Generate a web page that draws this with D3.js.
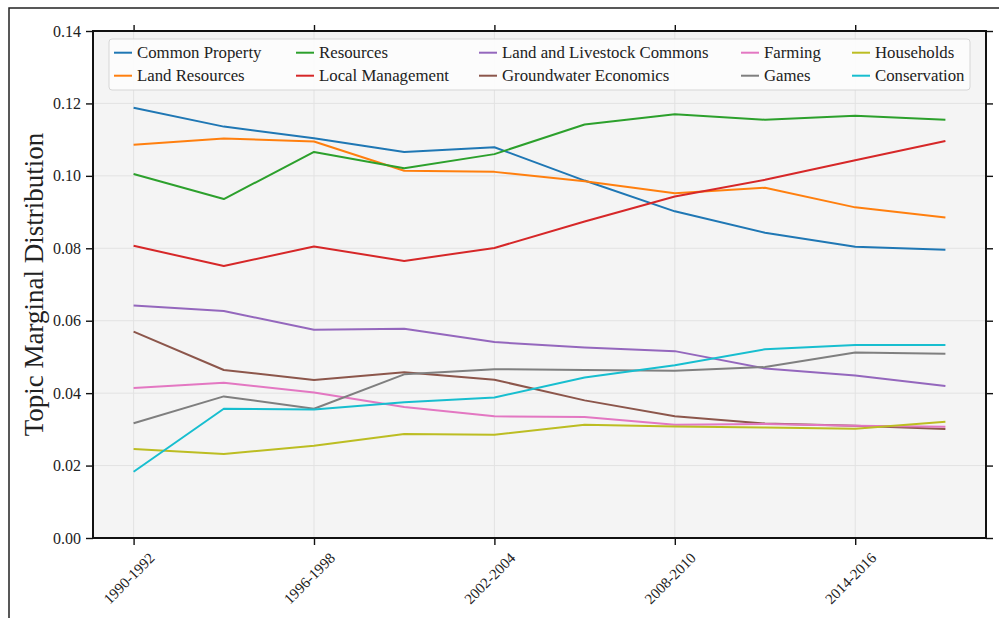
<!DOCTYPE html>
<html>
<head>
<meta charset="utf-8">
<script src="https://cdn.jsdelivr.net/npm/d3@7"></script>
<style>
  html, body { margin: 0; padding: 0; background: #fff; }
  svg { display: block; }
  text { font-family: "Liberation Serif", "Times New Roman", serif; fill: #222; }
</style>
</head>
<body>
<svg id="chart" width="999" height="618"></svg>
<script>
const categories = ["1990-1992","1993-1995","1996-1998","1999-2001","2002-2004","2005-2007","2008-2010","2011-2013","2014-2016","2017-2019"];
const tickLabels = ["1990-1992","1996-1998","2002-2004","2008-2010","2014-2016"];
const yTicks = [0, 0.02, 0.04, 0.06, 0.08, 0.10, 0.12, 0.14];

const seriesNames = ["Common Property","Land Resources","Resources","Local Management","Land and Livestock Commons","Groundwater Economics","Farming","Games","Households","Conservation"];
const seriesColors = ["#1f77b4","#ff7f0e","#2ca02c","#d62728","#9467bd","#8c564b","#e377c2","#7f7f7f","#bcbd22","#17becf"];

const commonProperty   = [0.1188,0.1136,0.1104,0.1066,0.1079,0.0987,0.0902,0.0843,0.0804,0.0796];
const landResources    = [0.1086,0.1103,0.1095,0.1014,0.1011,0.0985,0.0952,0.0967,0.0913,0.0885];
const resources        = [0.1005,0.0936,0.1066,0.1021,0.1060,0.1142,0.1170,0.1155,0.1166,0.1155];
const localManagement  = [0.0807,0.0751,0.0805,0.0765,0.0801,0.0874,0.0943,0.0989,0.1043,0.1096];
const landLivestock    = [0.0642,0.0627,0.0575,0.0578,0.0541,0.0526,0.0516,0.0468,0.0449,0.0420];
const groundwater      = [0.0570,0.0464,0.0436,0.0458,0.0437,0.0380,0.0336,0.0316,0.0310,0.0301];
const farming          = [0.0414,0.0429,0.0402,0.0362,0.0336,0.0334,0.0313,0.0315,0.0310,0.0307];
const games            = [0.0317,0.0391,0.0357,0.0452,0.0466,0.0464,0.0462,0.0472,0.0512,0.0509];
const households       = [0.0246,0.0232,0.0255,0.0287,0.0285,0.0313,0.0308,0.0305,0.0302,0.0321];
const conservation     = [0.0183,0.0357,0.0355,0.0375,0.0388,0.0443,0.0477,0.0521,0.0533,0.0533];

const seriesValues = [commonProperty, landResources, resources, localManagement, landLivestock, groundwater, farming, games, households, conservation];

const svg = d3.select("#chart");
const pL = 93, pR = 986, pT = 31, pB = 538;

// outer figure frame
svg.append("rect").attr("x", 9).attr("y", 8).attr("width", 1100).attr("height", 700)
  .attr("fill", "none").attr("stroke", "#222").attr("stroke-width", 1.5);

const x = d3.scalePoint().domain(categories).range([pL, pR]).padding(0.45);
const y = d3.scaleLinear().domain([0, 0.14]).range([pB, pT]);

// plot background
svg.append("rect").attr("x", pL).attr("y", pT).attr("width", pR - pL).attr("height", pB - pT)
  .attr("fill", "#f4f4f4");

// grid
const grid = svg.append("g");
grid.selectAll("line.h").data(yTicks).join("line").attr("class", "h")
  .attr("x1", pL).attr("x2", pR)
  .attr("y1", d => y(d)).attr("y2", d => y(d))
  .attr("stroke", "#e2e2e2").attr("stroke-width", 1);
grid.selectAll("line.v").data(tickLabels).join("line").attr("class", "v")
  .attr("x1", d => x(d)).attr("x2", d => x(d))
  .attr("y1", pT).attr("y2", pB)
  .attr("stroke", "#e2e2e2").attr("stroke-width", 1);

// lines
const line = d3.line().x((d, i) => x(categories[i])).y(d => y(d));
svg.append("g").selectAll("path").data(seriesValues).join("path")
  .attr("d", d => line(d))
  .attr("fill", "none")
  .attr("stroke", (d, i) => seriesColors[i])
  .attr("stroke-width", 2)
  .attr("stroke-linejoin", "round");

// axes
const fmt = d3.format(".2f");
const yAxisL = svg.append("g").attr("transform", `translate(${pL},0)`)
  .call(d3.axisLeft(y).tickValues(yTicks).tickFormat(fmt).tickSize(7).tickPadding(5));
const yAxisR = svg.append("g").attr("transform", `translate(${pR},0)`)
  .call(d3.axisRight(y).tickValues(yTicks).tickFormat("").tickSize(7));
const xAxisB = svg.append("g").attr("transform", `translate(0,${pB})`)
  .call(d3.axisBottom(x).tickValues(tickLabels).tickSize(7).tickFormat(""));
const xAxisT = svg.append("g").attr("transform", `translate(0,${pT})`)
  .call(d3.axisTop(x).tickValues(tickLabels).tickSize(6).tickFormat(""));
[yAxisL, yAxisR, xAxisB, xAxisT].forEach(g => {
  g.select(".domain").remove();
  g.selectAll(".tick line").attr("stroke", "#111").attr("stroke-width", 1.4);
});
yAxisL.selectAll(".tick text").attr("font-size", 16).attr("fill", "#222")
  .attr("font-family", '"Liberation Serif", "Times New Roman", serif');

// rotated x tick labels
svg.append("g").selectAll("text").data(tickLabels).join("text")
  .attr("transform", d => `translate(${x(d) + 22},${pB + 21}) rotate(-45)`)
  .attr("text-anchor", "end")
  .attr("font-size", 15)
  .text(d => d);

// frame
svg.append("rect").attr("x", pL).attr("y", pT).attr("width", pR - pL).attr("height", pB - pT)
  .attr("fill", "none").attr("stroke", "#111").attr("stroke-width", 2);

// y label
svg.append("text")
  .attr("transform", `translate(43,${(pT + pB) / 2}) rotate(-90)`)
  .attr("text-anchor", "middle")
  .attr("font-size", 27)
  .text("Topic Marginal Distribution");

// legend
const legCols = [114, 296, 479, 741, 852];
const legRows = [52.7, 75.7];
const leg = svg.append("g");
leg.append("rect").attr("x", 109).attr("y", 39).attr("width", 861).attr("height", 51)
  .attr("rx", 3).attr("fill", "#fdfdfd").attr("fill-opacity", 0.9)
  .attr("stroke", "#d6d6d6").attr("stroke-width", 1);
seriesNames.forEach((name, i) => {
  const cx = legCols[Math.floor(i / 2)];
  const cy = legRows[i % 2];
  leg.append("line").attr("x1", cx).attr("x2", cx + 18).attr("y1", cy).attr("y2", cy)
    .attr("stroke", seriesColors[i]).attr("stroke-width", 2);
  leg.append("text").attr("x", cx + 23).attr("y", cy).attr("dy", "0.33em")
    .attr("font-size", 16.8).text(name);
});
</script>
</body>
</html>
